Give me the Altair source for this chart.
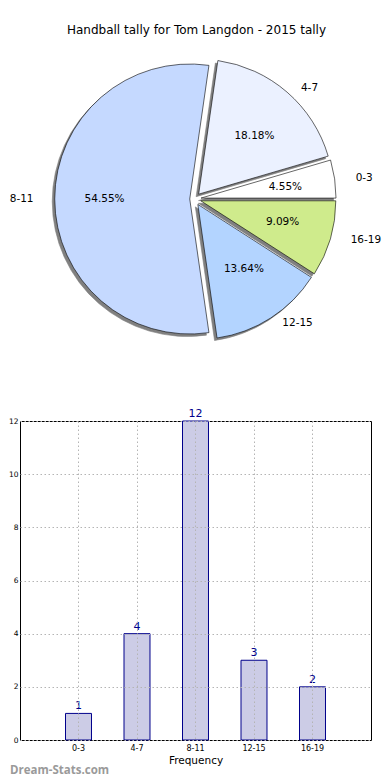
import altair as alt
import pandas as pd

# ---- data ----
categories = ["0-3", "4-7", "8-11", "12-15", "16-19"]
counts = [1, 4, 12, 3, 2]
explode = [0.05, 0.05, 0.03, 0.05, 0.05]
slice_colors = ["#FFFFFF", "#EBF1FF", "#C5D9FF", "#B3D4FF", "#CFEB8C"]
y_ticks = [0, 2, 4, 6, 8, 10, 12]
title_text = "Handball tally for Tom Langdon - 2015 tally"
x_title = "Frequency"
watermark = "Dream-Stats.com"

FONT = "DejaVu Sans"
R = 135
RX, RY = 142, 128
CX, CY = 174, 191
PW, PH = 351, 380

df = pd.DataFrame({
    "cat": categories,
    "count": counts,
    "explode": explode,
    "idx": list(range(len(categories))),
})

scale_color = alt.Scale(domain=categories, range=slice_colors)

base = (
    alt.Chart(df)
    .transform_joinaggregate(total="sum(count)")
    .transform_window(
        cum="sum(count)",
        sort=[alt.SortField("idx", order="descending")],
        frame=[None, 0],
    )
    .transform_calculate(
        start="PI/2 + 2*PI*(datum.cum - datum.count)/datum.total",
        end="PI/2 + 2*PI*datum.cum/datum.total",
    )
    .transform_calculate(mid="(datum.start + datum.end)/2")
    .transform_calculate(
        ex=f"{CX} + datum.explode*{RX}*sin(datum.mid)",
        ey=f"{CY} - datum.explode*{RY}*cos(datum.mid)",
        pct="format(datum.count/datum.total*100, '.2f') + '%'",
    )
    .transform_calculate(
        sx="datum.ex - 2.5",
        sy="datum.ey + 2.5",
        lx=f"datum.ex + 1.1*{RX}*sin(datum.mid)",
        ly=f"datum.ey - 1.1*{RY}*cos(datum.mid)",
        px=f"datum.ex + 0.6*{RX}*sin(datum.mid)",
        py=f"datum.ey - 0.6*{RY}*cos(datum.mid)",
        side="sin(datum.mid) > 0 ? 1 : 0",
    )
)

shadow = base.mark_arc(radius=R, fill="#808080", stroke="#808080", strokeWidth=0.6).encode(
    theta=alt.Theta("start:Q", scale=None),
    theta2="end:Q",
    x=alt.X("sx:Q", scale=None, axis=None),
    y=alt.Y("sy:Q", scale=None, axis=None),
)

wedges = base.mark_arc(radius=R, stroke="black", strokeWidth=0.6).encode(
    theta=alt.Theta("start:Q", scale=None),
    theta2="end:Q",
    x=alt.X("ex:Q", scale=None, axis=None),
    y=alt.Y("ey:Q", scale=None, axis=None),
    color=alt.Color("cat:N", scale=scale_color, legend=None),
)

lab_right = base.transform_filter("datum.side == 1").mark_text(
    align="left", baseline="middle", font=FONT, fontSize=10.5, color="black"
).encode(
    x=alt.X("lx:Q", scale=None, axis=None),
    y=alt.Y("ly:Q", scale=None, axis=None),
    text="cat:N",
)
lab_left = base.transform_filter("datum.side == 0").mark_text(
    align="right", baseline="middle", font=FONT, fontSize=10.5, color="black"
).encode(
    x=alt.X("lx:Q", scale=None, axis=None),
    y=alt.Y("ly:Q", scale=None, axis=None),
    text="cat:N",
)
pct_lab = base.mark_text(
    align="center", baseline="middle", font=FONT, fontSize=10.5, color="black"
).encode(
    x=alt.X("px:Q", scale=None, axis=None),
    y=alt.Y("py:Q", scale=None, axis=None),
    text="pct:N",
)

title_layer = alt.Chart(pd.DataFrame({"t": [title_text]})).mark_text(
    font=FONT, fontSize=12, color="black", align="center", baseline="middle"
).encode(x=alt.value(PW / 2 + 1), y=alt.value(22), text="t:N")

pie = alt.layer(title_layer, shadow, wedges, lab_right, lab_left, pct_lab).properties(
    width=PW, height=PH, view=alt.ViewBackground(stroke=None)
)

# ---- bar chart ----
bdf = pd.DataFrame({"cat": categories, "count": counts})
BW, BH = 351, 319

xenc = alt.X(
    "cat:N",
    sort=categories,
    scale=alt.Scale(paddingInner=0.556, paddingOuter=0.778),
    axis=alt.Axis(
        title=x_title,
        labelAngle=0,
        labelFont=FONT,
        labelFontSize=8,
        labelColor="black",
        labelPadding=4,
        titleFont=FONT,
        titleFontSize=10.5,
        titleFontWeight="normal",
        titleColor="black",
        titlePadding=3,
        grid=True,
        gridColor="#b4b4b4",
        gridDash=[1.5, 2.5],
        gridWidth=1,
        bandPosition=0.5,
        ticks=False,
        domain=False,
        zindex=1,
    ),
)
yenc = alt.Y(
    "count:Q",
    scale=alt.Scale(domain=[0, 12], nice=False),
    axis=alt.Axis(
        title=None,
        values=y_ticks,
        labelFont=FONT,
        labelFontSize=7.5,
        labelColor="black",
        labelPadding=2,
        minExtent=0,
        grid=True,
        gridColor="#b4b4b4",
        gridDash=[1.5, 2.5],
        gridWidth=1,
        ticks=False,
        domain=False,
        zindex=1,
    ),
)

bars = alt.Chart(bdf).mark_bar(fill="#CCCCE6", stroke="#00008B", strokeWidth=1).encode(
    x=xenc, y=yenc
)
bar_text = alt.Chart(bdf).mark_text(
    dy=-7, color="#00008B", font=FONT, fontSize=11, baseline="middle"
).encode(x=alt.X("cat:N", sort=categories), y="count:Q", text="count:Q")

wm = alt.Chart(pd.DataFrame({"t": [watermark]})).mark_text(
    font="Open Sans", fontSize=11.5, fontWeight="bold", color="#9a9a9a",
    align="left", baseline="middle"
).encode(x=alt.value(-10), y=alt.value(BH + 31), text="t:N")

barchart = alt.layer(bars, bar_text, wm).properties(
    width=BW, height=BH, view=alt.ViewBackground(stroke="black", strokeWidth=1)
)

chart = (
    alt.vconcat(pie, barchart, spacing=33, bounds="flush")
    .properties(padding={"left": -1, "top": 0, "right": 0, "bottom": 0})
    .configure_view(stroke=None)
)

chart.save("out.html", embed_options={"renderer": "svg", "actions": False})
